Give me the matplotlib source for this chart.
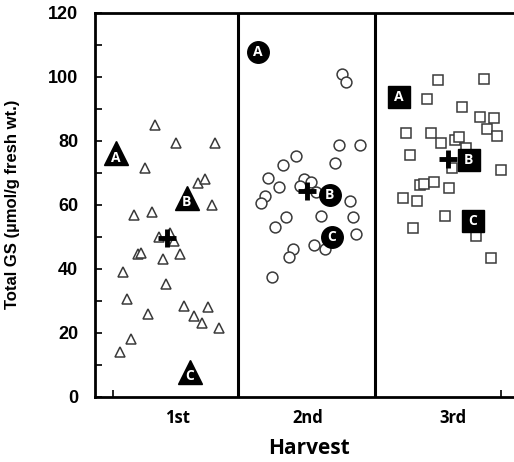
import matplotlib
matplotlib.use("Agg")
import matplotlib.pyplot as plt

# ---- data (x = horizontal position within the plot, y = Total GS) ----
h1_x = [60, 81, 120, 50, 103, 110, 117, 39, 57, 64, 75, 79, 43, 46, 68, 85, 28, 71, 32, 89, 113, 53, 99, 107, 124, 36, 25]
h1_y = [84.9, 79.2, 79.2, 71.4, 66.9, 67.9, 59.9, 56.8, 57.6, 50, 51.3, 48.7, 44.5, 44.8, 42.9, 44.6, 38.9, 35.2, 30.6, 28.3, 27.9, 25.7, 25.3, 22.9, 21.6, 18, 13.9]
h2_x = [247, 251, 244, 265, 201, 240, 188, 173, 209, 216, 184, 205, 170, 166, 255, 191, 226, 258, 180, 261, 219, 230, 198, 194, 177, 221]
h2_y = [100.8, 98.3, 78.7, 78.7, 75.3, 72.9, 72.3, 68.4, 68, 67.2, 65.4, 65.8, 62.8, 60.4, 61, 56.3, 56.5, 56.1, 52.9, 50.7, 47.4, 46, 46, 43.8, 37.3, 64]
h3_x = [343, 389, 332, 367, 385, 399, 392, 402, 311, 336, 346, 360, 364, 371, 315, 357, 406, 325, 329, 339, 354, 308, 322, 350, 318, 381, 396]
h3_y = [99, 99.3, 93, 90.4, 87.5, 87, 83.8, 81.5, 82.3, 82.3, 79.4, 80.2, 81.3, 77.6, 75.5, 71.6, 70.8, 66, 66.6, 67.1, 65.1, 62.1, 61.3, 56.5, 52.6, 50.2, 43.4]

labels_abc = ["A", "B", "C"]
h1_abc_x = [21, 92, 95]
h1_abc_y = [76, 62, 7.8]
h2_abc_x = [163, 235, 237]
h2_abc_y = [107.8, 63, 50]
h3_abc_x = [304, 374, 378]
h3_abc_y = [93.6, 74, 55]

mean_x = [72, 212, 353]
mean_y = [49.5, 64.4, 74.4]

harvests = ["1st", "2nd", "3rd"]
harvest_label_x = [83, 213, 358]
dividers = [143.6, 280.3]
edge_ticks = [18, 406]

W, H = 514, 462
fig = plt.figure(figsize=(W / 100, H / 100), dpi=100)
left, bottom, top = 94.7, 396.7, 12.7
ax_w_px = W - left + 5
ax = fig.add_axes([left / W, 1 - bottom / H, ax_w_px / W, (bottom - top) / H])
ax.set_xlim(0, ax_w_px)
ax.set_ylim(0, 120)

edge = "#3a3a3a"
ax.plot(h1_x, h1_y, ls="none", marker="^", ms=7.3, mfc="white", mec=edge, mew=1.1, zorder=3)
ax.plot(h2_x, h2_y, ls="none", marker="o", ms=7.8, mfc="white", mec=edge, mew=1.1, zorder=3)
ax.plot(h3_x, h3_y, ls="none", marker="s", ms=7.2, mfc="white", mec=edge, mew=1.1, zorder=3)

for xs, ys, mk, ms, dy in [(h1_abc_x, h1_abc_y, "^", 17, -1.3),
                           (h2_abc_x, h2_abc_y, "o", 15.5, 0),
                           (h3_abc_x, h3_abc_y, "s", 15.5, 0)]:
    ax.plot(xs, ys, ls="none", marker=mk, ms=ms, mfc="black", mec="black", zorder=4)
    for x, y, t in zip(xs, ys, labels_abc):
        ax.text(x, y + dy, t, color="white", ha="center", va="center",
                fontsize=10, fontweight="bold", family="Open Sans", zorder=5)

ax.plot(mean_x, mean_y, ls="none", marker="+", ms=13, mew=3.5, color="black", zorder=6)

for d in dividers:
    ax.axvline(d, color="black", lw=2.2, zorder=7)

for s in ["left", "bottom", "top"]:
    ax.spines[s].set_linewidth(2)
ax.spines["right"].set_visible(False)

ax.set_yticks(range(0, 121, 20))
ax.set_yticks(range(10, 120, 20), minor=True)
ax.tick_params(axis="y", which="both", direction="in", length=5, width=1.2, pad=12,
               labelsize=13)
for lab in ax.get_yticklabels():
    lab.set_fontweight("bold")
    lab.set_family("Liberation Sans")

ax.set_xticks(harvest_label_x, harvests)
ax.set_xticks(edge_ticks, minor=True)
ax.tick_params(axis="x", which="major", length=0, pad=9, labelsize=12)
ax.tick_params(axis="x", which="minor", direction="in", length=5, width=1.2)
for lab in ax.get_xticklabels():
    lab.set_fontweight("bold")
    lab.set_family("Open Sans")

ax.set_xlabel("Harvest", fontsize=15, fontweight="bold", family="Open Sans")
ax.xaxis.set_label_coords((309 - left) / ax_w_px, -0.108)
ax.set_ylabel("Total GS (µmol/g fresh wt.)", fontsize=12, fontweight="bold",
              family="Liberation Sans")
ax.yaxis.set_label_coords(-(left - 20) / ax_w_px, 0.5)

fig.savefig("out.png", dpi=100)
